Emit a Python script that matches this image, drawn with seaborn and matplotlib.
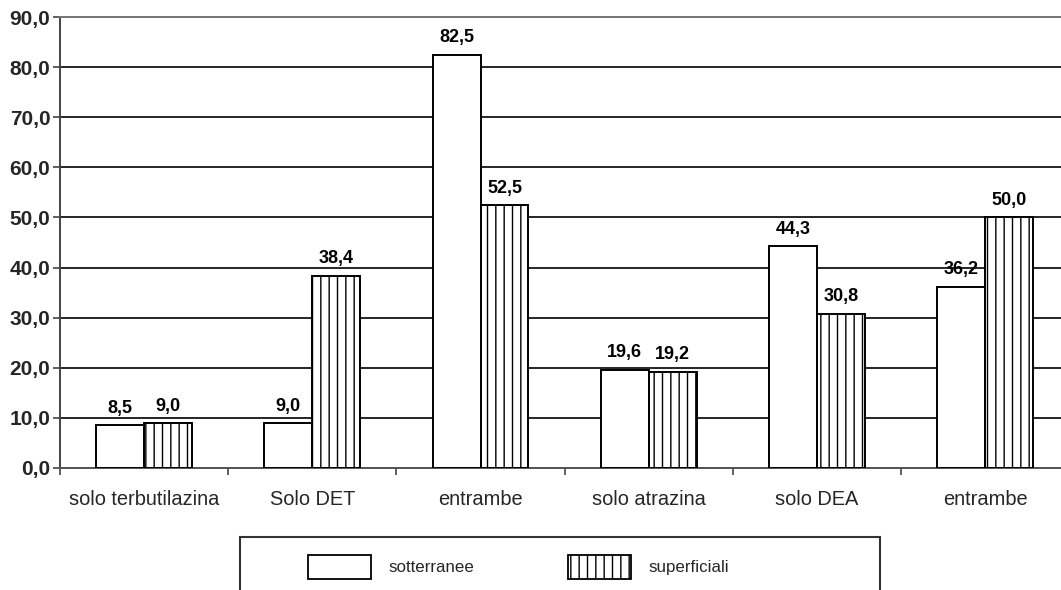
import matplotlib
matplotlib.use("Agg")
import matplotlib.pyplot as plt
from matplotlib.patches import Rectangle, Patch
from matplotlib.ticker import FixedLocator, FuncFormatter
import numpy as np
import pandas as pd
import seaborn as sns

categories = ["solo terbutilazina", "Solo DET", "entrambe",
              "solo atrazina", "solo DEA", "entrambe "]
sotterranee = [8.5, 9.0, 82.5, 19.6, 44.3, 36.2]
superficiali = [9.0, 38.4, 52.5, 19.2, 30.8, 50.0]
series_names = ["sotterranee", "superficiali"]
y_ticks = [0, 10, 20, 30, 40, 50, 60, 70, 80, 90]

df = pd.DataFrame({
    "categoria": categories * 2,
    "valore": sotterranee + superficiali,
    "serie": [series_names[0]] * len(categories) + [series_names[1]] * len(categories),
})

sns.set_theme(style="white")
plt.rcParams["font.family"] = ["Liberation Sans", "DejaVu Sans"]
plt.rcParams["hatch.color"] = "black"
plt.rcParams["hatch.linewidth"] = 1.0

W, H = 1061, 590
fig = plt.figure(figsize=(W / 100, H / 100), dpi=100)
ax = fig.add_axes([60 / W, 1 - 468 / H, 1 - 60 / W, (468 - 17) / H])

sns.barplot(data=df, x="categoria", y="valore", hue="serie", order=categories,
            hue_order=series_names, palette=["white", "white"], width=0.57,
            gap=0, edgecolor="black", linewidth=1.4, legend=False, ax=ax,
            zorder=3)

for bar in ax.containers[1]:
    bar.set_hatch("||")

for cont in ax.containers:
    ax.bar_label(cont, labels=[f"{v:.1f}".replace(".", ",") for v in cont.datavalues],
                 padding=6, fontsize=13, fontweight="bold", color="black", zorder=5)

ax.yaxis.set_major_locator(FixedLocator(y_ticks))
ax.yaxis.set_major_formatter(FuncFormatter(lambda v, p: f"{v:.1f}".replace(".", ",")))
ax.grid(axis="y", color="black", linewidth=1.2, zorder=0)
ax.set_axisbelow(True)
ax.set_xlabel("")
ax.set_ylabel("")

ax.set_xticks(range(len(categories)))
ax.set_xticklabels([c.strip() for c in categories], fontsize=14.4)
ax.set_xticks(np.arange(-0.5, len(categories) - 0.5, 1.0), minor=True)
ax.tick_params(axis="x", which="major", length=0, pad=16)
ax.tick_params(axis="x", which="minor", length=5, width=1.2, color="#444444",
               direction="out", bottom=True)
ax.tick_params(axis="y", length=5, width=1.2, color="#444444", direction="out",
               left=True, pad=2)
for lbl in ax.get_yticklabels():
    lbl.set_fontsize(15)
    lbl.set_fontweight("bold")

# the plot area runs past the right edge of the figure
ax.set_xlim(-0.5, 5.451)
ax.set_ylim(0, 90)

for side in ["left", "bottom", "top"]:
    ax.spines[side].set_visible(True)
    ax.spines[side].set_linewidth(1.4)
ax.spines["left"].set_color("#444444")
ax.spines["bottom"].set_color("#555555")
ax.spines["top"].set_color("#777777")
ax.spines["right"].set_visible(False)

# legend box, open at the bottom edge of the figure
fig.patches.append(Rectangle((240 / W, -0.05), (880 - 240) / W, (H - 537) / H + 0.05,
                             transform=fig.transFigure, facecolor="none",
                             edgecolor="#333333", linewidth=1.5))
handles = [Patch(facecolor="white", edgecolor="black", linewidth=1.3),
           Patch(facecolor="white", edgecolor="black", linewidth=1.3, hatch="||")]
fig.legend(handles, series_names, loc="center left",
           bbox_to_anchor=(300 / W, 1 - 567 / H), ncol=2, frameon=False,
           fontsize=12.2, handlelength=3.7, handleheight=1.8,
           handletextpad=1.05, columnspacing=5.5, borderpad=0)

fig.savefig("out.png", dpi=100)
